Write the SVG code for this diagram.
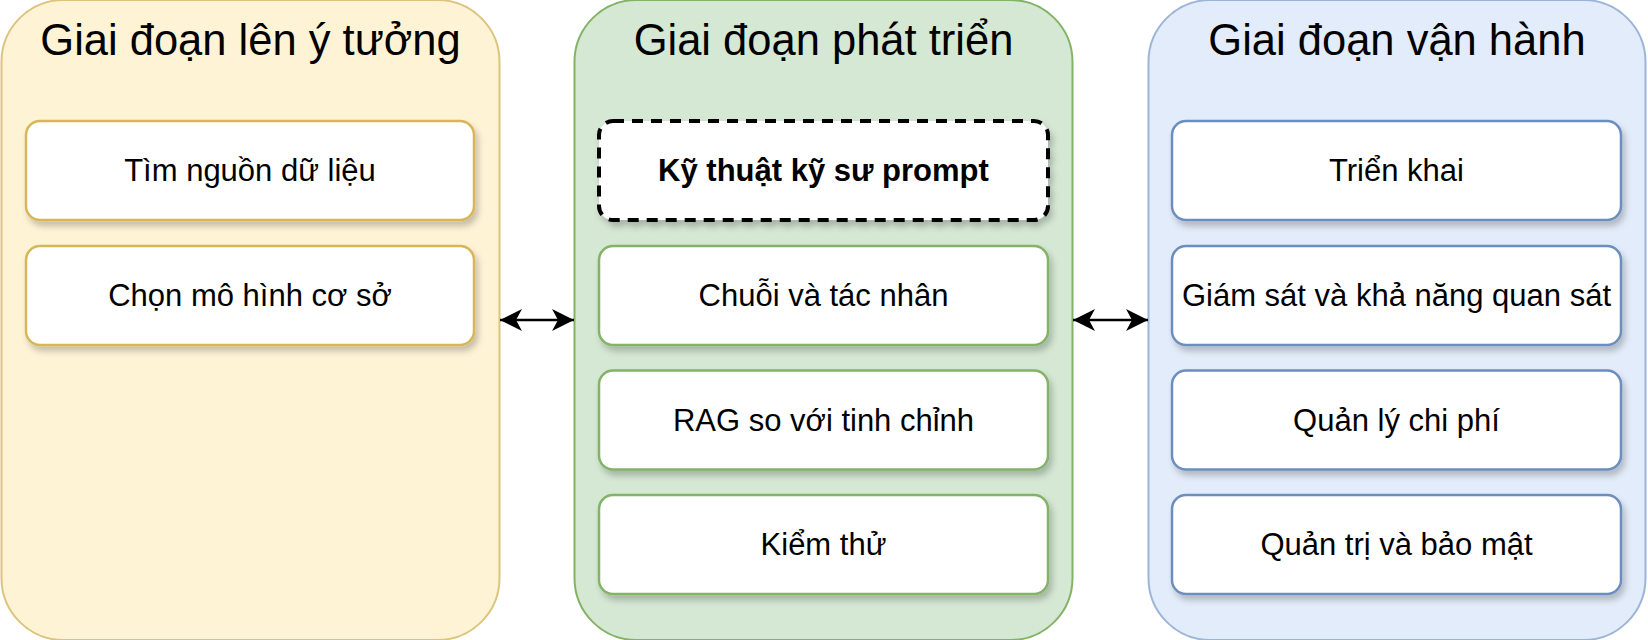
<svg xmlns="http://www.w3.org/2000/svg" width="1648" height="640" viewBox="0 0 1648 640">
<style>
.title{font-family:"Liberation Sans",Arial,sans-serif;font-size:43.5px;fill:#000;text-anchor:middle}
.lbl{font-family:"Liberation Sans",Arial,sans-serif;font-size:31px;fill:#000;text-anchor:middle}
.bold{font-weight:bold}
.box{fill:#fff;stroke-width:2.5}
.y{stroke:#d6b656}
.g{stroke:#82b366}
.b{stroke:#6c8ebf}
.conn{stroke:#000;stroke-width:2.5;fill:none}
</style>
<defs>
<filter id="sh" x="-10%" y="-20%" width="130%" height="150%">
<feDropShadow dx="3" dy="5" stdDeviation="3" flood-color="#000" flood-opacity="0.22"/>
</filter>
<marker id="ah" viewBox="-24 -12 26 24" markerWidth="26" markerHeight="24" markerUnits="userSpaceOnUse" refX="0" refY="0" orient="auto-start-reverse">
<path d="M0,0 L-22,-11 L-16,0 L-22,11 Z" fill="#000"/>
</marker>
</defs>
<rect width="1648" height="640" fill="#fff"/>

<g id="phase-ideation">
<rect x="1.5" y="0" width="498" height="640" rx="62" fill="#fff3d6" stroke="#dcc47e" stroke-width="2"/>
<text class="title" x="250.5" y="55">Giai đoạn lên ý tưởng</text>
</g>
<g id="phase-dev">
<rect x="574.5" y="0" width="498" height="640" rx="62" fill="#d5e8d4" stroke="#82b366" stroke-width="2"/>
<text class="title" x="823.5" y="55">Giai đoạn phát triển</text>
</g>
<g id="phase-ops">
<rect x="1148.5" y="0" width="497" height="640" rx="62" fill="#e3ecfa" stroke="#9db4d9" stroke-width="2"/>
<text class="title" x="1397" y="55">Giai đoạn vận hành</text>
</g>

<g id="n-data">
<rect class="box y" x="26" y="121" width="448" height="99" rx="14" filter="url(#sh)"/>
<text class="lbl" x="250" y="181">Tìm nguồn dữ liệu</text>
</g>
<g id="n-model">
<rect class="box y" x="26" y="246" width="448" height="99" rx="14" filter="url(#sh)"/>
<text class="lbl" x="250" y="306">Chọn mô hình cơ sở</text>
</g>

<g id="n-prompt">
<rect x="599" y="121" width="449" height="99" rx="14" fill="#fff" stroke="#000" stroke-width="4" stroke-dasharray="11 8" filter="url(#sh)"/>
<text class="lbl bold" x="823.5" y="181">Kỹ thuật kỹ sư prompt</text>
</g>
<g id="n-chains">
<rect class="box g" x="599" y="246" width="449" height="99" rx="14" filter="url(#sh)"/>
<text class="lbl" x="823.5" y="306">Chuỗi và tác nhân</text>
</g>
<g id="n-rag">
<rect class="box g" x="599" y="370.5" width="449" height="99" rx="14" filter="url(#sh)"/>
<text class="lbl" x="823.5" y="430.5">RAG so với tinh chỉnh</text>
</g>
<g id="n-test">
<rect class="box g" x="599" y="495" width="449" height="99" rx="14" filter="url(#sh)"/>
<text class="lbl" x="823.5" y="555">Kiểm thử</text>
</g>

<g id="n-deploy">
<rect class="box b" x="1172" y="121" width="449" height="99" rx="14" filter="url(#sh)"/>
<text class="lbl" x="1396.5" y="181">Triển khai</text>
</g>
<g id="n-monitor">
<rect class="box b" x="1172" y="246" width="449" height="99" rx="14" filter="url(#sh)"/>
<text class="lbl" x="1396.5" y="306">Giám sát và khả năng quan sát</text>
</g>
<g id="n-cost">
<rect class="box b" x="1172" y="370.5" width="449" height="99" rx="14" filter="url(#sh)"/>
<text class="lbl" x="1396.5" y="430.5">Quản lý chi phí</text>
</g>
<g id="n-gov">
<rect class="box b" x="1172" y="495" width="449" height="99" rx="14" filter="url(#sh)"/>
<text class="lbl" x="1396.5" y="555">Quản trị và bảo mật</text>
</g>

<g id="connectors">
<line class="conn" x1="500" y1="320" x2="574" y2="320" marker-start="url(#ah)" marker-end="url(#ah)"/>
<line class="conn" x1="1073" y1="320" x2="1148" y2="320" marker-start="url(#ah)" marker-end="url(#ah)"/>
</g>
</svg>
